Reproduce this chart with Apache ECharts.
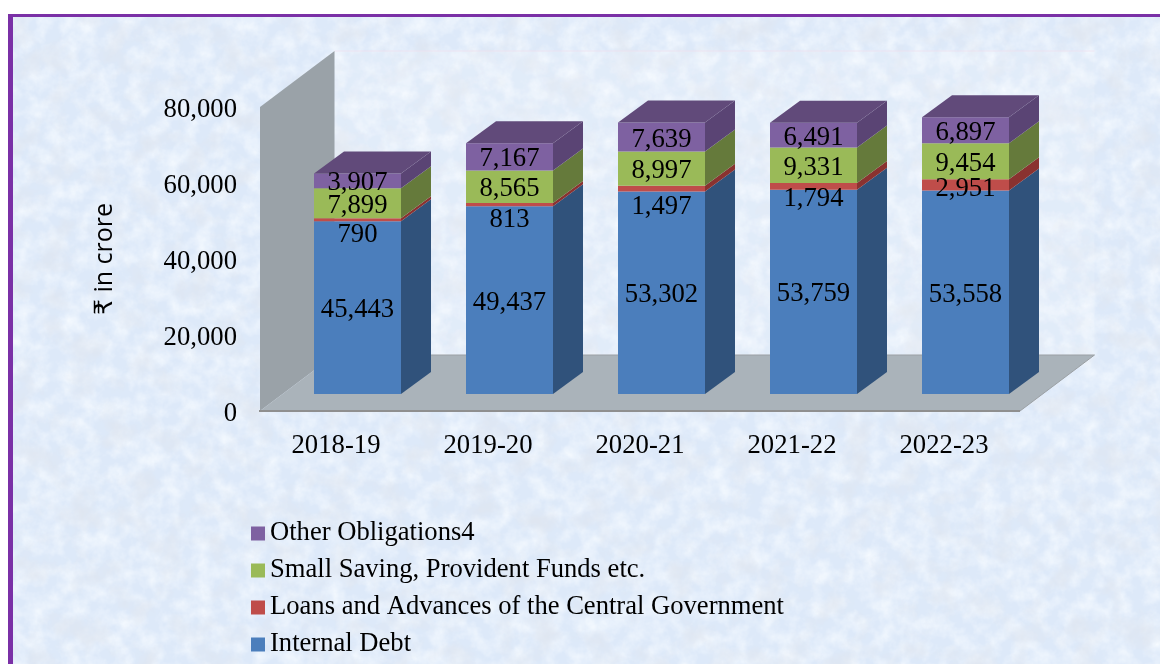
<!DOCTYPE html>
<html>
<head>
<meta charset="utf-8">
<style>
html,body{margin:0;padding:0;width:1160px;height:664px;overflow:hidden;background:#fff}
#tex{position:absolute;left:13px;top:17px;width:1147px;height:647px;background-color:#dde9f9;
background-image:url("data:image/svg+xml;utf8,<svg xmlns='http://www.w3.org/2000/svg' width='1147' height='647'><filter id='n' x='0' y='0' width='100%' height='100%'><feTurbulence type='fractalNoise' baseFrequency='0.035' numOctaves='5' seed='11'/><feColorMatrix values='0 0 0 0 .74 0 0 0 0 .79 0 0 0 0 .87 2.0 0 0 0 -.95'/></filter><filter id='m' x='0' y='0' width='100%' height='100%'><feTurbulence type='fractalNoise' baseFrequency='0.06' numOctaves='4' seed='29'/><feColorMatrix values='0 0 0 0 .92 0 0 0 0 .96 0 0 0 0 1 0 1.5 0 0 -.5'/></filter><rect width='1147' height='647' filter='url(%23m)'/><rect width='1147' height='647' filter='url(%23n)'/></svg>");}
#chart{position:absolute;left:0;top:0;width:1160px;height:664px}
</style>
</head>
<body>
<div id="tex"></div>
<div id="chart"></div>
<script src="https://cdn.jsdelivr.net/npm/echarts@6/dist/echarts.min.js"></script>
<script>
const categories = ['2018-19','2019-20','2020-21','2021-22','2022-23'];
const internalDebt = [45443,49437,53302,53759,53558];
const loansAdvances = [790,813,1497,1794,2951];
const smallSavings = [7899,8565,8997,9331,9454];
const otherObligations = [3907,7167,7639,6491,6897];
const seriesNames = ['Internal Debt','Loans and Advances of the Central Government','Small Saving, Provident Funds etc.','Other Obligations4'];
const yTicks = {min:0,max:80000,interval:20000};

const stacks = [internalDebt,loansAdvances,smallSavings,otherObligations];
const faces = [
  {front:'#4b7ebc',side:'#30527b',top:'#30527b'},
  {front:'#bf4d4a',side:'#8a3230',top:'#8a3230'},
  {front:'#9aba58',side:'#657a3b',top:'#657a3b'},
  {front:'#7e61a1',side:'#5a4474',top:'#614a7a'}
];
const serif = '"Liberation Serif","Times New Roman",serif';
const textSize = 26.7;
// Layout of the pseudo-3D projection, in pixels
const depth = {x:74.5,y:-56};
const barFront = {x:21.5,y:-17};
const barDepth = {x:30,y:-22};
const barW = 87;
const labelDrop = 2.5;
// Hand-placed label nudges of the thin red segments, as in the reference
const redNudge = [13,13,16,10,2];

function poly(points,fill){
  return {type:'polygon',shape:{points},style:{fill},silent:true};
}
function renderStage(params,api){
  const x0 = params.coordSys.x, w = params.coordSys.width;
  const yb = api.coord([0,yTicks.min])[1], yt = api.coord([0,yTicks.max])[1];
  const x1 = x0+w, dx = depth.x, dy = depth.y;
  return {type:'group',children:[
    poly([[x0+dx,yt+dy],[x1+dx,yt+dy],[x1+dx,yb+dy],[x0+dx,yb+dy]],'rgba(255,255,255,0.14)'),
    {type:'line',shape:{x1:x0+dx,y1:yt+dy,x2:x1+dx,y2:yt+dy},style:{stroke:'rgba(240,222,236,0.7)',lineWidth:1},silent:true},
    poly([[x0,yt],[x0+dx,yt+dy],[x0+dx,yb+dy],[x0,yb]],'#9aa2a8'),
    poly([[x0,yb],[x1,yb],[x1+dx,yb+dy],[x0+dx,yb+dy]],'#aab3ba'),
    {type:'polyline',shape:{points:[[x1,yb],[x1+dx,yb+dy],[x0+dx,yb+dy]]},style:{fill:'none',stroke:'#9a9fa3',lineWidth:1},silent:true},
    {type:'line',shape:{x1:x0-1,y1:yb,x2:x1,y2:yb},style:{stroke:'#8f8f8f',lineWidth:2},silent:true}
  ]};
}
function renderSeg(s){
  return function(params,api){
    const i = api.value(0), lo = api.value(1), hi = api.value(2);
    const c = api.coord([i,lo]), d = api.coord([i,hi]);
    const L = c[0]+barFront.x-barW/2, R = L+barW;
    const yB = c[1]+barFront.y, yT = d[1]+barFront.y;
    const ox = barDepth.x, oy = barDepth.y, f = faces[s];
    const kids = [
      poly([[L,yT],[R,yT],[R,yB],[L,yB]],f.front),
      poly([[R,yT],[R+ox,yT+oy],[R+ox,yB+oy],[R,yB]],f.side)
    ];
    if(s===stacks.length-1){
      kids.push(poly([[L,yT],[L+ox,yT+oy],[R+ox,yT+oy],[R,yT]],f.top));
    }
    return {type:'group',children:kids};
  };
}
function renderLabel(s){
  return function(params,api){
    const i = api.value(0), lo = api.value(1), hi = api.value(2);
    const c = api.coord([i,lo]), d = api.coord([i,hi]);
    const cx = c[0]+barFront.x, cy = (c[1]+d[1])/2+barFront.y+labelDrop+(s===1?redNudge[i]:0);
    return {type:'text',z2:100,silent:true,style:{
      text:(hi-lo).toLocaleString('en-US'),x:cx,y:cy,align:'center',verticalAlign:'middle',
      font:textSize+'px '+serif,fill:'#000'}};
  };
}
const running = categories.map(()=>0);
const segSeries = [], labelSeries = [];
stacks.forEach((vals,s)=>{
  const rows = vals.map((v,i)=>{const lo=running[i];running[i]+=v;return [i,lo,running[i]];});
  segSeries.push({name:seriesNames[s],type:'custom',coordinateSystem:'cartesian2d',
    encode:{x:0,y:[1,2]},data:rows,clip:false,silent:true,z:2,
    itemStyle:{color:faces[s].front},renderItem:renderSeg(s)});
  labelSeries.push({type:'custom',coordinateSystem:'cartesian2d',
    encode:{x:0,y:[1,2]},data:rows,clip:false,silent:true,z:5,renderItem:renderLabel(s)});
});
const chart = echarts.init(document.getElementById('chart'),null,{renderer:'canvas',width:1160,height:664});
chart.setOption({
  animation:false,
  backgroundColor:'transparent',
  graphic:[
    {type:'rect',shape:{x:8,y:14,width:1152,height:3},style:{fill:'#7a30a6'},silent:true},
    {type:'rect',shape:{x:8,y:14,width:5,height:650},style:{fill:'#7a30a6'},silent:true}
  ],
  grid:{left:260,top:107,width:760,height:304,containLabel:false},
  legend:{orient:'vertical',left:246,top:515,height:149,itemWidth:14,itemHeight:14,itemGap:10,icon:'rect',
    data:seriesNames.slice().reverse(),selectedMode:false,
    textStyle:{fontFamily:serif,fontSize:26.6,color:'#000',lineHeight:24}},
  xAxis:{type:'category',data:categories,
    axisLine:{show:false},axisTick:{show:false},splitLine:{show:false},
    axisLabel:{fontFamily:serif,fontSize:textSize,color:'#000',margin:21}},
  yAxis:{type:'value',min:yTicks.min,max:yTicks.max,interval:yTicks.interval,
    axisLine:{show:false},axisTick:{show:false},splitLine:{show:false},
    axisLabel:{fontFamily:serif,fontSize:textSize,color:'#000',margin:23,
      formatter:v=>'{a|'+v.toLocaleString('en-US')+'}',
      rich:{a:{fontFamily:serif,fontSize:textSize,color:'#000',padding:[6,0,0,0]}}},
    name:'₹ in crore',nameLocation:'middle',nameGap:143,nameRotate:90,
    nameTextStyle:{fontFamily:'"Open Sans","DejaVu Sans",sans-serif',fontSize:25,color:'#000'}},
  series:[{type:'custom',coordinateSystem:'cartesian2d',data:[[0,0]],encode:{x:0,y:1},clip:false,silent:true,z:1,renderItem:renderStage}]
    .concat(segSeries,labelSeries)
});
</script>
</body>
</html>
